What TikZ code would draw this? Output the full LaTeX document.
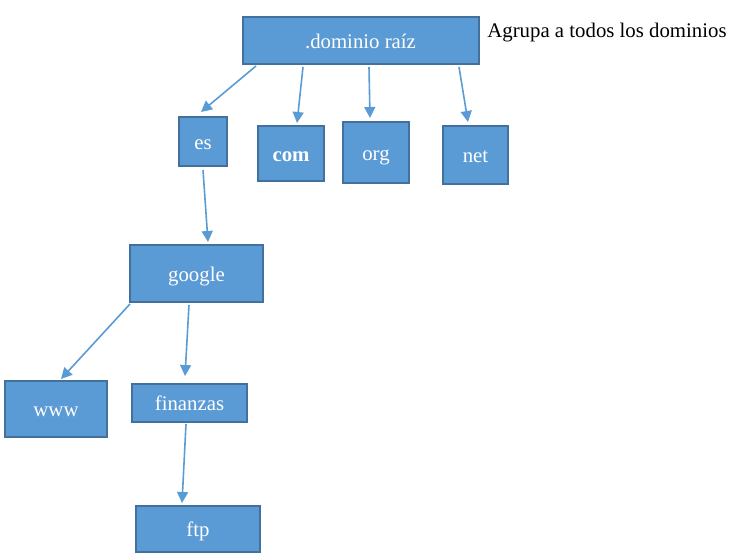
\documentclass[tikz,border=0pt]{standalone}
\usepackage{fontspec}
\setmainfont{Liberation Serif}
\usepackage{tikz}
\usetikzlibrary{arrows, arrows.meta}
\usepackage{xcolor}

\definecolor{boxblue}{HTML}{5B9BD5}
\definecolor{boxedge}{HTML}{41719C}

\tikzset{
	dombox/.style={draw=boxedge, line width=1pt, fill=boxblue, text=white, inner sep=0pt, text height=10pt, text depth=2pt, font=\fontsize{10.4}{12.5}\selectfont},
	link/.style={-{Triangle[length=5.5pt,width=5.5pt]}, draw=boxblue, line width=0.8pt}
}

\begin{document}
\begin{tikzpicture}[x=0.5pt, y=-0.5pt] % dominios
	
	\useasboundingbox (0,0) rectangle (745,560);
	
	%boxes
	\node[dombox, minimum width=118pt, minimum height=23.5pt] (root) at (360.5,40.5) {.dominio raíz};
	\node[dombox, minimum width=24pt, minimum height=24.5pt] (es) at (203,141.5) {es};
	\node[dombox, minimum width=33pt, minimum height=27.5pt] (com) at (291,153.5) {\bfseries com};
	\node[dombox, minimum width=33pt, minimum height=30.5pt] (org) at (376,152.5) {org};
	\node[dombox, minimum width=32.5pt, minimum height=29pt] (net) at (475.5,155) {net};
	\node[dombox, minimum width=66.5pt, minimum height=28.5pt] (google) at (196.5,273.5) {google};
	\node[dombox, minimum width=51pt, minimum height=28pt] (www) at (56,409) {www};
	\node[dombox, minimum width=57.5pt, minimum height=19pt] (finanzas) at (189.5,403) {finanzas};
	\node[dombox, minimum width=62pt, minimum height=23pt] (ftp) at (198,529) {ftp};
	
	%arrows
	\draw[link] ([shift={(-104.5,1)}]root.south) -- ([shift={(-2,-4)}]es.north);
	\draw[link] ([shift={(-57.5,2)}]root.south) -- ([shift={(6,-2)}]com.north);
	\draw[link] ([shift={(8.5,2)}]root.south) -- ([shift={(-6,-3)}]org.north);
	\draw[link] ([shift={(98.5,2)}]root.south) -- ([shift={(-7.5,-3)}]net.north);
	\draw[link] ([shift={(0,3)}]es.south) -- ([shift={(11.5,-2)}]google.north);
	\draw[link] ([shift={(1,1)}]google.south west) -- ([shift={(5,-1)}]www.north);
	\draw[link] ([shift={(-7.5,2)}]google.south) -- ([shift={(-4.5,-7)}]finanzas.north);
	\draw[link] ([shift={(-3.5,1)}]finanzas.south) -- ([shift={(-16,-2)}]ftp.north);
	
	%labels
	\node[anchor=west, inner sep=0pt, font=\fontsize{10.4}{12.5}\selectfont] (note) at (487,32.5) {Agrupa a todos los dominios};
	
\end{tikzpicture}
\end{document}
